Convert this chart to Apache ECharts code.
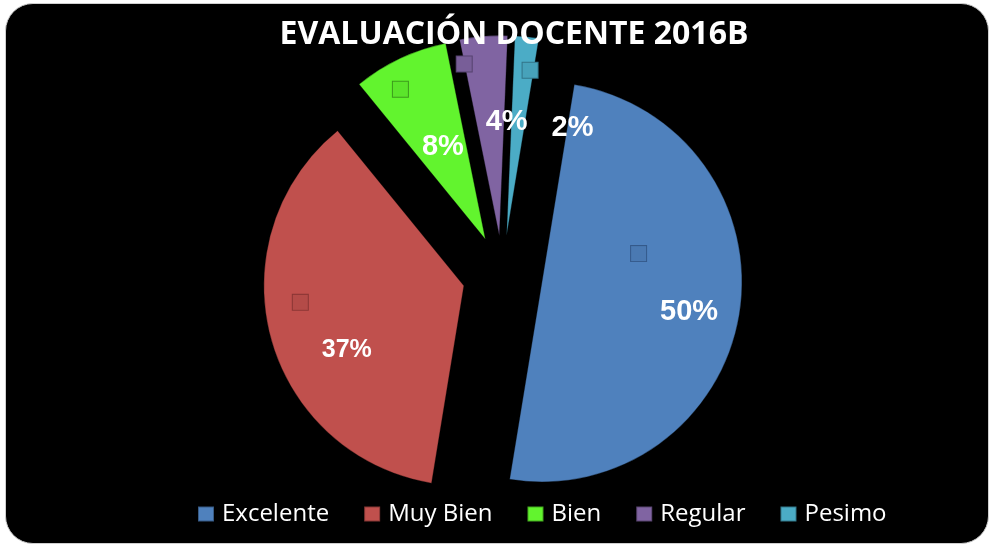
<!DOCTYPE html>
<html>
<head>
<meta charset="utf-8">
<script src="https://cdn.jsdelivr.net/npm/echarts@6/dist/echarts.min.js"></script>
<style>
  html, body { margin: 0; padding: 0; background: #fff; }
  #frame {
    position: absolute; left: 5px; top: 3px; width: 984px; height: 541px;
    background: #000; border: 1px solid #cfcfcf; border-radius: 28px; box-sizing: border-box;
  }
  #chart { position: absolute; left: 0; top: 0; width: 994px; height: 547px; }
</style>
</head>
<body>
<div id="frame"></div>
<div id="chart"></div>
<script>
// datos
const categories = ["Excelente", "Muy Bien", "Bien", "Regular", "Pesimo"];
const counts = [26, 19, 4, 2, 1];
const titleText = "EVALUACIÓN DOCENTE 2016B";

// estilos
const sliceColors = ["#4F81BD", "#C0504D", "#62F42E", "#8064A2", "#4BACC6"];
const keyFill = ["#4A79B2", "#B44B48", "#5BE52B", "#785E98", "#47A2BA"];
const keyBorder = ["#34598A", "#8A3634", "#3C9A1C", "#55426F", "#327488"];
const pctSize = [29, 25, 29, 29, 29];
const keyGap = [86, 70, 86, 86, 86];
const labelNudge = [[31, -30], [-32, 3], [-13, -42], [1, -54], [41, -48]];

const total = counts.reduce((a, b) => a + b, 0);

let rich = {};
categories.forEach((c, i) => {
  rich["s" + i] = {
    width: 15, height: 15, lineHeight: keyGap[i], align: "left",
    backgroundColor: keyFill[i], borderColor: keyBorder[i], borderWidth: 1
  };
  rich["p" + i] = {
    fontFamily: "Liberation Sans, Arial", fontWeight: "bold", fontSize: pctSize[i],
    lineHeight: pctSize[i] + 1, color: "#fff", align: "left", padding: [0, 0, 0, 29]
  };
});

let seriesData = categories.map((name, i) => ({
  name: name,
  value: counts[i],
  selected: true,
  itemStyle: { color: sliceColors[i] }
}));

var chart = echarts.init(document.getElementById("chart"));
chart.setOption({
  animation: false,
  backgroundColor: "transparent",
  title: {
    text: titleText,
    left: 509,
    top: 14,
    textAlign: "center",
    textStyle: { color: "#fff", fontFamily: "Open Sans", fontWeight: "bold", fontSize: 32 }
  },
  legend: {
    data: categories,
    left: 192,
    top: 497,
    icon: "rect",
    itemWidth: 16,
    itemHeight: 15,
    itemGap: 34,
    selectedMode: false,
    textStyle: { color: "#fff", fontFamily: "Open Sans", fontSize: 24, padding: [0, 0, 0, 3] }
  },
  series: [
    {
      type: "pie",
      center: [502.5, 275.5],
      radius: 200,
      startAngle: 80.7,
      clockwise: true,
      selectedMode: "multiple",
      selectedOffset: 40,
      itemStyle: { borderColor: "rgba(0,0,0,0.3)", borderWidth: 1 },
      select: { itemStyle: { borderColor: "rgba(0,0,0,0.3)", borderWidth: 1 } },
      emphasis: { disabled: true },
      label: {
        show: true,
        position: "inside",
        formatter: p => "{s" + p.dataIndex + "|}\n{p" + p.dataIndex + "|" +
          Math.round(p.value / total * 100) + "%}",
        rich: rich
      },
      labelLine: { show: false },
      labelLayout: p => ({ dx: labelNudge[p.dataIndex][0], dy: labelNudge[p.dataIndex][1] }),
      data: seriesData
    }
  ]
});
</script>
</body>
</html>
